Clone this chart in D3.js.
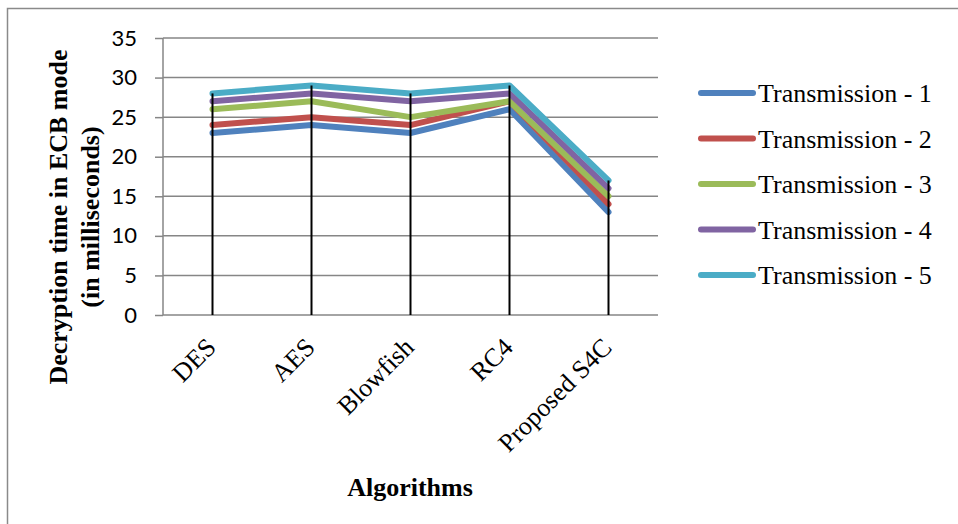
<!DOCTYPE html>
<html><head><meta charset="utf-8">
<script src="https://cdn.jsdelivr.net/npm/d3@7"></script>
<style>body{margin:0;background:#fff;} svg{display:block;}</style>
</head><body>
<svg id="c" width="958" height="524"></svg>
<script>
const categories = ["DES", "AES", "Blowfish", "RC4", "Proposed S4C"];
const seriesNames = ["Transmission - 1", "Transmission - 2", "Transmission - 3", "Transmission - 4", "Transmission - 5"];
const t1 = [23, 24, 23, 26, 13];
const t2 = [24, 25, 24, 27, 14];
const t3 = [26, 27, 25, 27, 15];
const t4 = [27, 28, 27, 28, 16];
const t5 = [28, 29, 28, 29, 17];
const yTicks = [0, 5, 10, 15, 20, 25, 30, 35];
const colors = ["#4F81BD", "#C0504D", "#9BBB59", "#8064A2", "#4BACC6"];
const seriesValues = [t1, t2, t3, t4, t5];

(function () {
const svg = d3.select("#c");
const pLeft = 163, pRight = 658, pTop = 38, pBottom = 315;
const x = d3.scaleBand().domain(categories).range([pLeft, pRight]);
const y = d3.scaleLinear().domain([0, 35]).range([pBottom, pTop]);
const cx = c => x(c) + x.bandwidth() / 2;
const serif = "'Liberation Serif', 'Times New Roman', serif";

// frame
svg.append("path").attr("d", `M7.5,530 L7.5,8.5 L970,8.5`).attr("fill", "none")
  .attr("stroke", "#8a8a8a").attr("stroke-width", 1.5);

// y axis + gridlines
const yAxis = d3.axisLeft(y).tickValues(yTicks).tickSize(8).tickPadding(18);
const gy = svg.append("g").attr("transform", `translate(${pLeft},0)`).call(yAxis);
gy.select(".domain").attr("stroke", "#868686").attr("stroke-width", 1.5).attr("d", `M0,${pTop}V${pBottom}`);
gy.selectAll(".tick line").attr("stroke", "#868686").attr("stroke-width", 1.5);
gy.selectAll(".tick text").attr("font-family", "Lato, 'Open Sans', sans-serif").attr("font-size", 22).attr("fill", "#000");
svg.append("g").selectAll("line").data(yTicks).join("line")
  .attr("x1", pLeft).attr("x2", pRight).attr("y1", d => y(d)).attr("y2", d => y(d))
  .attr("stroke", "#868686").attr("stroke-width", 1.5);

// series lines
const line = d3.line().x((d, i) => cx(categories[i])).y(d => y(d));
seriesValues.forEach((vals, k) => {
  svg.append("path").datum(vals).attr("d", line).attr("fill", "none")
    .attr("stroke", colors[k]).attr("stroke-width", 6)
    .attr("stroke-linejoin", "round").attr("stroke-linecap", "round");
});

// drop lines
categories.forEach((c, i) => {
  const mx = d3.max(seriesValues, s => s[i]);
  svg.append("line").attr("x1", cx(c)).attr("x2", cx(c)).attr("y1", y(mx)).attr("y2", y(0))
    .attr("stroke", "#000").attr("stroke-width", 2);
});

// x labels
svg.append("g").selectAll("text").data(categories).join("text")
  .attr("transform", d => `translate(${cx(d) - 8},${pBottom + 21}) rotate(-45)`)
  .attr("text-anchor", "end").attr("dy", "0.7em")
  .attr("font-family", serif).attr("font-size", 26)
  .text(d => d);

// axis titles
svg.append("text").attr("x", 410).attr("y", 496).attr("text-anchor", "middle")
  .attr("font-family", serif).attr("font-size", 26).attr("font-weight", "bold")
  .text("Algorithms");
const yt = svg.append("text").attr("transform", "translate(67,217) rotate(-90)")
  .attr("text-anchor", "middle")
  .attr("font-family", serif).attr("font-size", 26).attr("font-weight", "bold");
yt.append("tspan").attr("x", 0).attr("y", 0).text("Decryption time in ECB mode");
yt.append("tspan").attr("x", 0).attr("y", 32).text("(in milliseconds)");

// legend
const lg = svg.append("g");
seriesNames.forEach((n, k) => {
  const ly = 93 + k * 45.5;
  lg.append("line").attr("x1", 701).attr("x2", 753).attr("y1", ly).attr("y2", ly)
    .attr("stroke", colors[k]).attr("stroke-width", 6).attr("stroke-linecap", "round");
  lg.append("text").attr("x", 758).attr("y", ly + 9)
    .attr("font-family", serif).attr("font-size", 26)
    .text(n);
});
})();
</script>
</body></html>
